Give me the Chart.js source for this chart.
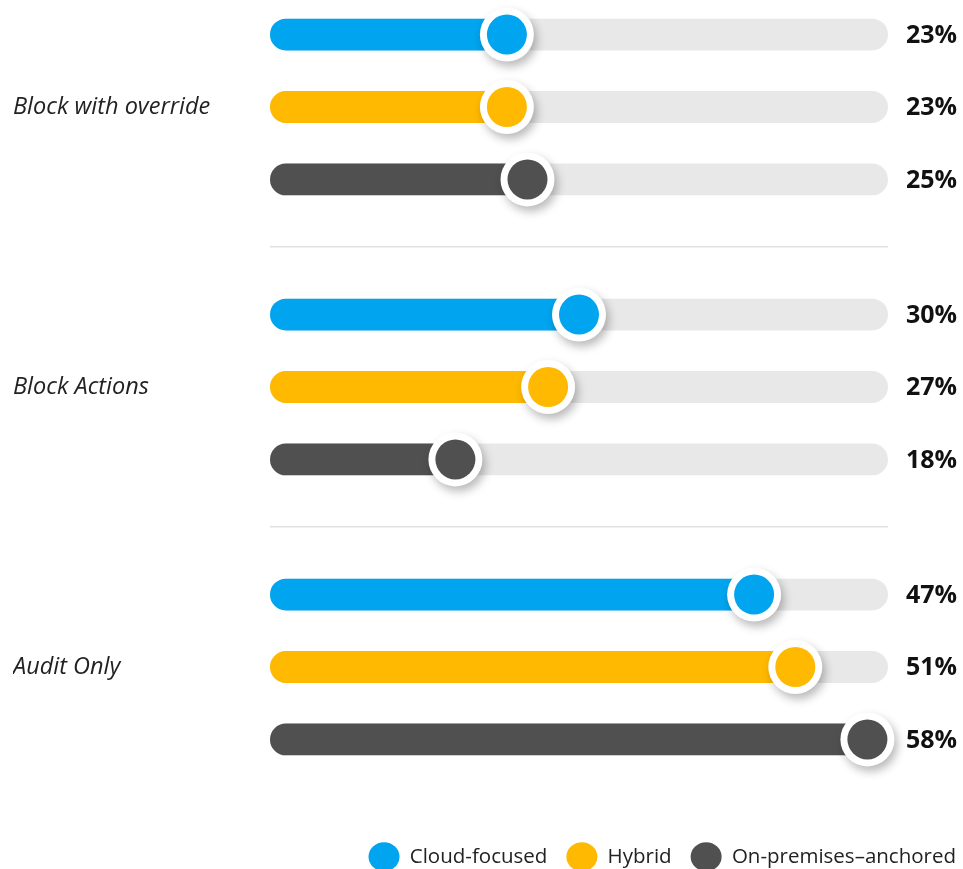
<!DOCTYPE html>
<html>
<head>
<meta charset="utf-8">
<script src="https://cdn.jsdelivr.net/npm/chart.js@4.4.1/dist/chart.umd.min.js"></script>
<style>
  html, body { margin: 0; padding: 0; background: #fff; }
  #wrap { width: 963px; height: 869px; position: relative; }
</style>
</head>
<body>
<div id="wrap"><canvas id="policyChart"></canvas></div>
<script>
// data
const categories = ["Block with override", "Block Actions", "Audit Only"];
const seriesNames = ["Cloud-focused", "Hybrid", "On-premises–anchored"];
const cloudFocused = [23, 30, 47];
const hybrid = [23, 27, 51];
const onPremises = [25, 18, 58];
const scaleMax = 60; // end of the grey track

const seriesValues = [cloudFocused, hybrid, onPremises];
const colors = ["#00A4EF", "#FFB900", "#505050"];
const trackColor = "#E8E8E8";
const FONT = "'Open Sans', 'Noto Sans', sans-serif";

// grey track behind each bar, knob at the end, value on the right
const sliderPlugin = {
  id: "sliders",
  beforeDatasetsDraw(chart) {
    const { ctx } = chart;
    const x = chart.scales.x;
    const x0 = x.getPixelForValue(0);
    const x1 = x.getPixelForValue(scaleMax);
    ctx.save();
    ctx.fillStyle = trackColor;
    chart.data.datasets.forEach((ds, i) => {
      chart.getDatasetMeta(i).data.forEach(bar => {
        const h = bar.height;
        ctx.beginPath();
        ctx.roundRect(x0, bar.y - h / 2, x1 - x0, h, h / 2);
        ctx.fill();
      });
    });
    ctx.restore();
  },
  afterDatasetsDraw(chart) {
    const { ctx } = chart;
    chart.data.datasets.forEach((ds, i) => {
      chart.getDatasetMeta(i).data.forEach((bar, j) => {
        ctx.save();
        ctx.shadowColor = "rgba(0,0,0,0.28)";
        ctx.shadowBlur = 10;
        ctx.shadowOffsetX = 3;
        ctx.shadowOffsetY = 5;
        ctx.fillStyle = "#fff";
        ctx.beginPath();
        ctx.arc(bar.x, bar.y, 27, 0, Math.PI * 2);
        ctx.fill();
        ctx.restore();

        ctx.fillStyle = ds.backgroundColor;
        ctx.beginPath();
        ctx.arc(bar.x, bar.y, 20, 0, Math.PI * 2);
        ctx.fill();

        ctx.save();
        ctx.font = "700 25px " + FONT;
        ctx.fillStyle = "#111";
        ctx.textAlign = "right";
        ctx.textBaseline = "middle";
        ctx.fillText(ds.data[j] + "%", chart.width - 6, bar.y + 1);
        ctx.restore();
      });
    });
  }
};

new Chart(document.getElementById("policyChart"), {
  type: "bar",
  data: {
    labels: categories,
    datasets: seriesValues.map((vals, i) => ({
      label: seriesNames[i],
      data: vals,
      backgroundColor: colors[i],
      borderWidth: 0,
      borderRadius: 16,
      borderSkipped: false,
      categoryPercentage: 0.776,
      barPercentage: 0.44,
      clip: false
    }))
  },
  options: {
    indexAxis: "y",
    responsive: true,
    maintainAspectRatio: false,
    animation: false,
    events: [],
    layout: { padding: { top: 107, left: 13, right: -12, bottom: -8 } },
    scales: {
      x: {
        min: 0,
        max: scaleMax,
        grid: { display: false },
        border: { display: false },
        ticks: { display: false },
        afterFit(s) { s.height = 160.5; }
      },
      y: {
        offset: false,
        grid: { offset: true, color: "#E1E1E1", lineWidth: 1.5, drawTicks: false },
        border: { display: false },
        ticks: {
          crossAlign: "far",
          padding: 0,
          color: "#222",
          font: { family: FONT, size: 23.5, style: "italic" }
        },
        afterFit(s) { s.width = 257; }
      },
      yRight: {
        type: "linear",
        position: "right",
        grid: { display: false },
        border: { display: false },
        ticks: { display: false },
        afterFit(s) { s.width = 87; }
      }
    },
    plugins: {
      tooltip: { enabled: false },
      legend: {
        position: "bottom",
        align: "end",
        labels: {
          usePointStyle: true,
          pointStyle: "circle",
          pointStyleWidth: 31,
          boxHeight: 21,
          padding: 19,
          color: "#222",
          font: { family: FONT, size: 20.5 }
        }
      }
    }
  },
  plugins: [sliderPlugin]
});
</script>
</body>
</html>
